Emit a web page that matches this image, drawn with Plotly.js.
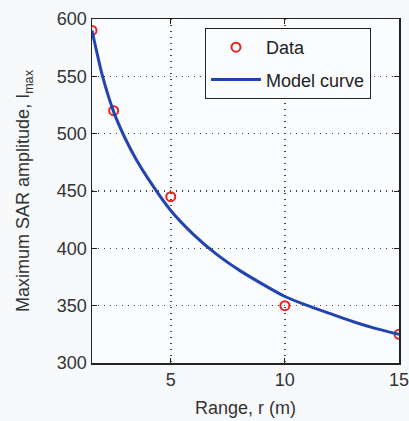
<!DOCTYPE html>
<html><head><meta charset="utf-8">
<script src="https://cdn.plot.ly/plotly-3.0.1.min.js"></script>
<style>html,body{margin:0;padding:0;background:#f7f9fb;}#chart{width:409px;height:421px;}</style>
</head><body><div id="chart"></div>
<script>
// Measured data points
var dataRange = [1.55, 2.5, 5, 10, 15];
var dataAmp = [590, 520, 445, 350, 325];
// Model curve, values
var modelRange = [1.55, 2, 2.5, 3, 3.5, 4, 5, 6, 7, 8, 9, 10, 11, 12, 13, 14, 15];
var modelAmp = [590, 551, 519, 496, 477, 461, 433, 412, 395, 381, 369, 358, 350, 343, 336, 330, 325];
var xTicks = [5, 10, 15];
var yTicks = [300, 350, 400, 450, 500, 550, 600];

var font = {family: 'Liberation Sans, Arial, sans-serif', size: 18, color: '#333'};
var traces = [
  {x: dataRange, y: dataAmp, name: 'Data', mode: 'markers', type: 'scatter', legendgroup: 'a',
   marker: {symbol: 'circle-open', size: 9, color: '#e8231f', line: {width: 2, color: '#e8231f'}}},
  {x: modelRange, y: modelAmp, name: 'Model curve', mode: 'lines', type: 'scatter', legendgroup: 'b',
   line: {color: '#2244b0', width: 3, shape: 'spline', smoothing: 0.6}}
];
var axisCommon = {showline: true, linecolor: '#222', linewidth: 1.5, mirror: 'ticks', ticks: 'inside', ticklen: 5,
  tickcolor: '#222', showgrid: true, gridcolor: '#444', griddash: '1px,5px', gridwidth: 1.5, zeroline: false,
  tickfont: font, ticklabeloverflow: 'allow'};
var layout = {
  width: 409, height: 421,
  margin: {l: 92, r: 10, t: 19, b: 58},
  paper_bgcolor: '#f7f9fb', plot_bgcolor: '#fbfcfe',
  font: font,
  showlegend: true,
  legend: {x: 0.368, y: 0.974, xanchor: 'left', yanchor: 'top', bgcolor: '#fbfcfe', bordercolor: '#222', borderwidth: 1,
    itemwidth: 50, traceorder: 'grouped', tracegroupgap: 6,
    font: {family: 'Liberation Sans, Arial, sans-serif', size: 18, color: '#222'}},
  xaxis: Object.assign({}, axisCommon, {range: [1.55, 15], tickvals: xTicks,
    title: {text: 'Range, r (m)', font: font, standoff: 12}}),
  yaxis: Object.assign({}, axisCommon, {range: [300, 600], tickvals: yTicks,
    title: {text: 'Maximum SAR amplitude, I<sub>max</sub>', font: font, standoff: 22}})
};
Plotly.newPlot('chart', traces, layout, {displayModeBar: false, staticPlot: true});
</script></body></html>
